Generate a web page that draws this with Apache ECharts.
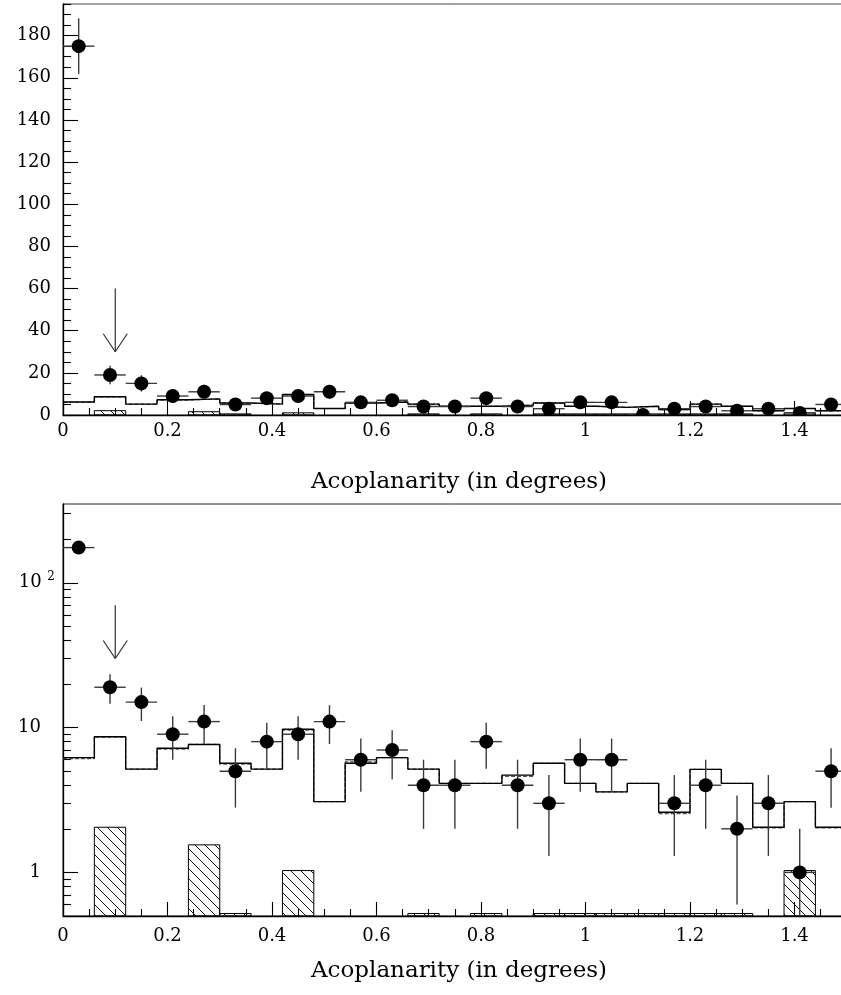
<!DOCTYPE html>
<html><head><meta charset="utf-8">
<script src="https://cdn.jsdelivr.net/npm/echarts@6/dist/echarts.min.js"></script>
<style>html,body{margin:0;padding:0;background:#fff}#c{width:841px;height:995px}</style>
</head><body><div id="c"></div>
<script>
// ---- data ----
const binWidth = 0.06;
const binLeftEdges = [0,0.06,0.12,0.18,0.24,0.30,0.36,0.42,0.48,0.54,0.60,0.66,0.72,0.78,0.84,0.90,0.96,1.02,1.08,1.14,1.20,1.26,1.32,1.38,1.44];
const binCenters = [0.03,0.09,0.15,0.21,0.27,0.33,0.39,0.45,0.51,0.57,0.63,0.69,0.75,0.81,0.87,0.93,0.99,1.05,1.11,1.17,1.23,1.29,1.35,1.41,1.47];
const dataCounts = [175,19,15,9,11,5,8,9,11,6,7,4,4,8,4,3,6,6,0,3,4,2,3,1,5];
const dataErrors = [13.2,4.4,3.9,3.0,3.3,2.2,2.8,3.0,3.3,2.4,2.6,2.0,2.0,2.8,2.0,1.7,2.4,2.4,0,1.7,2.0,1.4,1.7,1.0,2.2];
const mcSolid  = [6.2,8.65,5.17,7.2,7.65,5.67,5.17,9.73,3.08,5.67,6.2,5.17,4.12,4.12,4.7,5.67,4.12,3.6,4.12,2.6,5.15,4.12,2.05,3.08,2.05];
const mcDashed = [6.1,8.6,5.17,7.1,7.65,5.6,5.17,9.6,3.08,5.8,6.2,5.17,4.12,4.12,4.6,5.67,4.12,3.6,4.12,2.55,5.15,4.12,2.03,3.08,2.03];
const bkgHatched = [0,2.05,0,0,1.55,0.52,0,1.03,0,0,0,0.52,0,0.52,0,0.52,0.52,0.52,0.52,0.52,0.52,0.52,0,1.03,0];
const arrowX = 0.1;
const arrowTop = [60, 30];     // linear panel: from, to
const arrowLog = [70, 30];     // log panel: from, to
const yTopMajor = [0,20,40,60,80,100,120,140,160,180];
const yTopMinor = [5,10,15,25,30,35,45,50,55,65,70,75,85,90,95,105,110,115,125,130,135,145,150,155,165,170,175,185,190,195];
const yLogMajor = [1,10,100];
const yLogMinor = [0.6,0.7,0.8,0.9,2,3,4,5,6,7,8,9,20,30,40,50,60,70,80,90,200,300];
const xTitle = 'Acoplanarity (in degrees)';

// ---- style helpers ----
const FONT = 'DejaVu Serif';
const hatch = (function(){
  const s = 10, c = document.createElement('canvas');
  c.width = s; c.height = s;
  const g = c.getContext('2d');
  g.strokeStyle = '#111'; g.lineWidth = 1;
  g.beginPath();
  g.moveTo(0,0); g.lineTo(s,s);
  g.moveTo(-2,s-2); g.lineTo(2,s+2);
  g.moveTo(s-2,-2); g.lineTo(s+2,2);
  g.stroke();
  return c;
})();

function pointRenderer(yMin, isLog) {
  return function(params, api) {
    const x = api.value(0), y = api.value(1), e = api.value(2);
    if (isLog && y <= 0) return null;
    let lo = y - e; if (lo < yMin) lo = yMin;
    const c = api.coord([x, y]);
    const l = api.coord([x - binWidth/2, y]), r = api.coord([x + binWidth/2, y]);
    const t = api.coord([x, y + e]), b = api.coord([x, lo]);
    const ls = {stroke:'#3a3a3a', lineWidth:1.4};
    return {type:'group', children:[
      {type:'line', shape:{x1:l[0],y1:l[1],x2:r[0],y2:r[1]}, style:ls},
      {type:'line', shape:{x1:c[0],y1:t[1],x2:c[0],y2:b[1]}, style:ls},
      {type:'circle', shape:{cx:c[0],cy:c[1],r:7}, style:{fill:'#000'}}
    ]};
  };
}
function hatchRenderer(yMin) {
  return function(params, api) {
    const x0 = api.value(0), v = api.value(1);
    if (v <= 0) return null;
    const p1 = api.coord([x0, v]), p2 = api.coord([x0 + binWidth, yMin]);
    return {type:'rect', shape:{x:p1[0], y:p1[1], width:p2[0]-p1[0], height:p2[1]-p1[1]},
      style:{fill:{image:hatch, repeat:'repeat'}, stroke:'#000', lineWidth:1}};
  };
}
function arrowRenderer(params, api) {
  const x = api.value(0), y0 = api.value(1), y1 = api.value(2);
  const a = api.coord([x, y0]), b = api.coord([x, y1]);
  const st = {stroke:'#333', lineWidth:1.2, fill:null};
  return {type:'group', children:[
    {type:'line', shape:{x1:a[0],y1:a[1],x2:b[0],y2:b[1]}, style:st},
    {type:'line', shape:{x1:b[0]-12,y1:b[1]-18,x2:b[0],y2:b[1]}, style:st},
    {type:'line', shape:{x1:b[0]+12,y1:b[1]-18,x2:b[0],y2:b[1]}, style:st}
  ]};
}
function stepData(vals) {
  const d = binLeftEdges.map((x,i)=>[x, vals[i]]);
  d.push([binLeftEdges[binLeftEdges.length-1] + binWidth, vals[vals.length-1]]);
  return d;
}

const labelStyle = {fontFamily: FONT, fontSize: 18, color:'#000'};
function xAxisFor(gridIndex, margin) {
  return {gridIndex, type:'value', min:0, max:1.6, interval:0.2,
    axisLine:{show:true, onZero:false, lineStyle:{color:'#000', width:1.3}},
    axisTick:{show:true, inside:true, length:14, lineStyle:{color:'#000', width:1.1}},
    minorTick:{show:true, splitNumber:4, length:7, lineStyle:{color:'#000', width:1.1}},
    splitLine:{show:false}, minorSplitLine:{show:false},
    axisLabel:Object.assign({margin}, labelStyle)};
}

const chart = echarts.init(document.getElementById('c'), null, {renderer:'canvas'});
const topMin = 0, topMax = 195, logMin = 0.5, logMax = 350;
const ptsTop = binCenters.map((x,i)=>[x, dataCounts[i], dataErrors[i]]);
const hatchData = binLeftEdges.map((x,i)=>[x, bkgHatched[i]]);

chart.setOption({
  animation:false,
  backgroundColor:'#fff',
  title:[
    {text:xTitle, left:454, top:466, textAlign:'center', textStyle:{fontFamily:FONT, fontSize:23, fontWeight:'normal', color:'#000'}},
    {text:xTitle, left:454, top:955, textAlign:'center', textStyle:{fontFamily:FONT, fontSize:23, fontWeight:'normal', color:'#000'}}
  ],
  grid:[
    {left:63, top:4, width:836, height:411, show:true, borderColor:'#444', borderWidth:1, backgroundColor:'transparent', outerBoundsMode:'none', containLabel:false},
    {left:63, top:504, width:836, height:412, show:true, borderColor:'#222', borderWidth:1, backgroundColor:'transparent', outerBoundsMode:'none', containLabel:false}
  ],
  xAxis:[ xAxisFor(0, 7), xAxisFor(1, 11) ],
  yAxis:[
    {gridIndex:0, type:'value', position:'left', min:topMin, max:topMax,
      axisLine:{show:true, lineStyle:{color:'#000', width:1.3}},
      axisTick:{show:true, inside:true, length:15, customValues:yTopMajor, lineStyle:{color:'#000', width:1.1}},
      axisLabel:Object.assign({margin:12, customValues:yTopMajor}, labelStyle),
      splitLine:{show:false}},
    {gridIndex:0, type:'value', position:'left', offset:0, min:topMin, max:topMax,
      axisLine:{show:false},
      axisTick:{show:true, inside:true, length:8, customValues:yTopMinor, lineStyle:{color:'#000', width:1.1}},
      axisLabel:{show:false}, splitLine:{show:false}},
    {gridIndex:1, type:'log', logBase:10, position:'left', min:logMin, max:logMax,
      axisLine:{show:true, lineStyle:{color:'#000', width:1.3}},
      axisTick:{show:true, inside:true, length:15, customValues:yLogMajor, lineStyle:{color:'#000', width:1.1}},
      axisLabel:{margin:8, customValues:yLogMajor,
        formatter:function(v){ return v >= 100 ? '{n|10 }{s|2}' : '{m|' + Math.round(v) + '}'; },
        rich:{
          n:{fontFamily:FONT, fontSize:18, color:'#000'},
          m:{fontFamily:FONT, fontSize:18, color:'#000', padding:[0,14,0,0]},
          s:{fontFamily:FONT, fontSize:12, color:'#000', padding:[0,0,12,0]}
        }},
      splitLine:{show:false}},
    {gridIndex:1, type:'log', logBase:10, position:'left', offset:0, min:logMin, max:logMax,
      axisLine:{show:false},
      axisTick:{show:true, inside:true, length:8, customValues:yLogMinor, lineStyle:{color:'#000', width:1.1}},
      axisLabel:{show:false}, splitLine:{show:false}}
  ],
  series:[
    // top (linear) panel
    {type:'custom', xAxisIndex:0, yAxisIndex:0, clip:true, renderItem:hatchRenderer(topMin), data:hatchData, z:2},
    {type:'line', xAxisIndex:0, yAxisIndex:0, step:'end', symbol:'none', data:stepData(mcDashed),
      lineStyle:{color:'#555', width:1.2, type:[4,2]}, z:3},
    {type:'line', xAxisIndex:0, yAxisIndex:0, step:'end', symbol:'none', data:stepData(mcSolid),
      lineStyle:{color:'#000', width:1.4}, z:4},
    {type:'custom', xAxisIndex:0, yAxisIndex:0, clip:true, renderItem:pointRenderer(topMin,false), data:ptsTop, z:5},
    {type:'custom', xAxisIndex:0, yAxisIndex:0, renderItem:arrowRenderer, data:[[arrowX, arrowTop[0], arrowTop[1]]], z:6},
    // bottom (log) panel
    {type:'custom', xAxisIndex:1, yAxisIndex:2, clip:true, renderItem:hatchRenderer(logMin), data:hatchData, z:2},
    {type:'line', xAxisIndex:1, yAxisIndex:2, step:'end', symbol:'none', data:stepData(mcDashed),
      lineStyle:{color:'#555', width:1.2, type:[4,2]}, z:3},
    {type:'line', xAxisIndex:1, yAxisIndex:2, step:'end', symbol:'none', data:stepData(mcSolid),
      lineStyle:{color:'#000', width:1.4}, z:4},
    {type:'custom', xAxisIndex:1, yAxisIndex:2, clip:true, renderItem:pointRenderer(logMin,true), data:ptsTop, z:5},
    {type:'custom', xAxisIndex:1, yAxisIndex:2, renderItem:arrowRenderer, data:[[arrowX, arrowLog[0], arrowLog[1]]], z:6}
  ]
});
</script></body></html>
